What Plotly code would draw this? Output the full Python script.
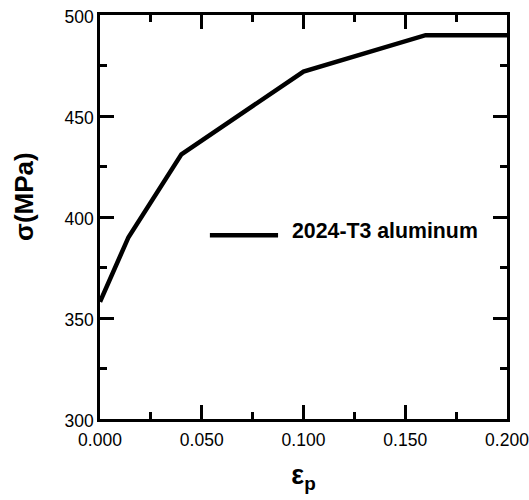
import plotly.graph_objects as go

# Flow curve of 2024-T3 aluminum: plastic strain vs. flow stress
plastic_strain = [0.000, 0.014, 0.040, 0.100, 0.160, 0.200]
flow_stress = [358, 390, 431, 472, 490, 490]
series_name = "2024-T3 aluminum"

x_ticks = [0.0, 0.05, 0.10, 0.15, 0.20]
x_tick_labels = ["0.000", "0.050", "0.100", "0.150", "0.200"]
y_ticks = [300, 350, 400, 450, 500]
y_tick_labels = ["300", "350", "400", "450", "500"]

x_title = "ε<sub>p</sub>"
y_title = "σ(MPa)"

# Key placed inside the plot (line sample + label), in data units
key_x = [0.054, 0.0875]
key_y = 391

FONT = "Liberation Sans, Arial, sans-serif"

fig = go.Figure()
fig.add_trace(go.Scatter(
    x=plastic_strain, y=flow_stress, mode="lines", name=series_name,
    line=dict(color="black", width=4.5), showlegend=False,
))

fig.add_shape(type="line", xref="x", yref="y",
              x0=key_x[0], x1=key_x[1], y0=key_y, y1=key_y,
              line=dict(color="black", width=4.5))
fig.add_annotation(x=0.0935, y=key_y + 2, xref="x", yref="y",
                   text=series_name, showarrow=False, xanchor="left",
                   yanchor="middle",
                   font=dict(family=FONT, size=21.3, color="black", weight="bold"))

# Vertical axis title, rotated, left of the tick labels
fig.add_annotation(x=-0.187, y=0.552, xref="paper", yref="paper",
                   text=y_title, showarrow=False, textangle=-90,
                   xanchor="center", yanchor="middle",
                   font=dict(family=FONT, size=26, color="black", weight="bold"))

axis_common = dict(
    showline=True, linecolor="black", linewidth=2.5, mirror="ticks",
    ticks="inside", ticklen=14, tickwidth=2.5, tickcolor="black",
    showgrid=False, zeroline=False, ticklabeloverflow="allow",
    automargin=False,
    tickfont=dict(family=FONT, size=17.5, color="black"),
)

fig.update_xaxes(
    range=[0, 0.2000001], tickvals=x_ticks, ticktext=x_tick_labels,
    minor=dict(dtick=0.025, tick0=0, ticks="inside", ticklen=7,
               tickwidth=2.5, tickcolor="black", showgrid=False),
    ticklabelstandoff=3,
    title=dict(text=x_title, standoff=17,
               font=dict(family=FONT, size=27, color="black", weight="bold")),
    **axis_common,
)
fig.update_yaxes(
    range=[300, 500.00001], tickvals=y_ticks, ticktext=y_tick_labels,
    minor=dict(dtick=25, tick0=300, ticks="inside", ticklen=7,
               tickwidth=2.5, tickcolor="black", showgrid=False),
    ticklabelshift=2,
    **axis_common,
)

fig.update_layout(
    width=529, height=500,
    margin=dict(l=100, r=22, t=15, b=81),
    plot_bgcolor="white", paper_bgcolor="white",
)

fig.write_html("out.html")
